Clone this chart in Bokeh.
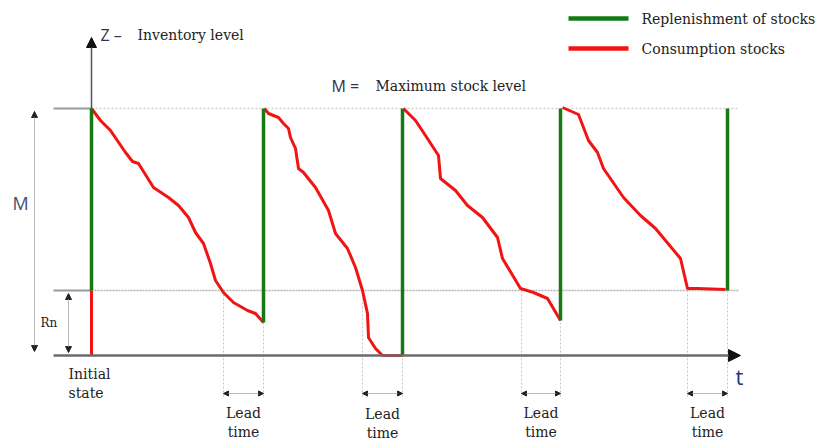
from bokeh.plotting import figure
from bokeh.models import Range1d, Arrow, NormalHead
from bokeh.core.properties import value
from bokeh.embed import file_html
from bokeh.resources import INLINE

# ---- data (time t in arbitrary units, inventory level z in arbitrary units) ----
M_LEVEL = 247
RN_LEVEL = 65

# consumption curves (red), one per cycle
c1_t = [0, 9, 19, 34, 41, 47, 62, 77, 87, 97, 104, 112, 119, 124, 132, 142, 156, 164, 172]
c1_z = [247, 235, 225, 203, 194, 192, 168, 158, 150, 138, 123, 112, 92, 75, 63, 53, 45, 42, 33]

c2_t = [173, 177, 187, 192, 197, 199, 204, 207, 212, 224, 237, 244, 256, 264, 271, 276, 277, 284, 291, 311]
c2_z = [247, 242, 238, 232, 227, 218, 207, 187, 183, 168, 145, 122, 107, 88, 65, 42, 18, 7, 0, 0]

c3_t = [312, 324, 332, 347, 349, 364, 376, 391, 406, 411, 429, 442, 456, 469]
c3_z = [247, 235, 223, 200, 177, 165, 150, 138, 118, 97, 67, 63, 57, 35]

c4_t = [471, 487, 497, 506, 512, 532, 549, 564, 589, 596, 606, 634]
c4_z = [248, 241, 215, 203, 187, 158, 140, 127, 97, 67, 67, 66]

# replenishment moments (green) and stock before replenishment
repl_t = [0, 172, 311, 469, 636]
repl_from = [65, 33, 0, 35, 65]

# reorder points (start of lead time) and end of lead time
lead_start = [132, 271, 430, 596]
lead_end = [172, 311, 469, 636]

legend_labels = ["Replenishment of stocks", "Consumption stocks"]

RED = "#f21414"
GREEN = "#157a15"
SERIF = value("DejaVu Serif")
SANS = value("Open Sans")

p = figure(width=818, height=441, output_backend="svg", toolbar_location=None,
           x_range=Range1d(-91, 727), y_range=Range1d(-86, 355),
           min_border=0, min_border_left=0, min_border_right=0,
           min_border_top=0, min_border_bottom=0)
p.axis.visible = False
p.grid.visible = False
p.outline_line_color = None
p.background_fill_color = "white"

# reference lines
p.segment(x0=[-38, -38], y0=[M_LEVEL, RN_LEVEL], x1=[0, 0], y1=[M_LEVEL, RN_LEVEL],
          line_color="#9a9a9a", line_width=2)
p.segment(x0=[0], y0=[M_LEVEL], x1=[647], y1=[M_LEVEL],
          line_color="#dccbd1", line_width=1.5, line_dash="2 2")
p.segment(x0=[0], y0=[RN_LEVEL], x1=[647], y1=[RN_LEVEL],
          line_color="#b5b5b5", line_width=1.5, line_dash="2 1")

# dotted lead-time verticals
vx = lead_start + lead_end
p.segment(x0=vx, y0=[RN_LEVEL] * len(vx), x1=vx, y1=[-41] * len(vx),
          line_color="#c8c8c8", line_width=1, line_dash="2 2")

# time axis
p.add_layout(Arrow(end=NormalHead(size=12, fill_color="#111", line_color="#111"),
                   x_start=-38, y_start=0, x_end=649, y_end=0,
                   line_color="#6a6a6a", line_width=2.5))
# inventory axis
p.add_layout(Arrow(end=NormalHead(size=10, fill_color="#111", line_color="#111"),
                   x_start=0, y_start=M_LEVEL, x_end=0, y_end=318,
                   line_color="#555", line_width=1.5))

# dimension arrows M and Rn
for xs, y0, y1 in [(-57, 4, 244), (-23, 3, 62)]:
    p.add_layout(Arrow(start=NormalHead(size=6, fill_color="#222", line_color="#222"),
                       end=NormalHead(size=6, fill_color="#222", line_color="#222"),
                       x_start=xs, y_start=y0, x_end=xs, y_end=y1,
                       line_color="#b8b8b8", line_width=1))

# lead time arrows
for a, b in zip(lead_start, lead_end):
    p.add_layout(Arrow(start=NormalHead(size=5, fill_color="#222", line_color="#222"),
                       end=NormalHead(size=5, fill_color="#222", line_color="#222"),
                       x_start=a, y_start=-38, x_end=b, y_end=-38,
                       line_color="#b8b8b8", line_width=1))

# consumption (red)
p.segment(x0=[0], y0=[0], x1=[0], y1=[RN_LEVEL], line_color=RED, line_width=3)
for tt, zz in [(c1_t, c1_z), (c2_t, c2_z), (c3_t, c3_z), (c4_t, c4_z)]:
    p.line(tt, zz, line_color=RED, line_width=3, line_join="round")

# replenishment (green)
p.segment(x0=repl_t, y0=repl_from, x1=repl_t, y1=[M_LEVEL] * len(repl_t),
          line_color=GREEN, line_width=3.5)

# legend
p.segment(x0=[477, 477], y0=[337, 307], x1=[537, 537], y1=[337, 307],
          line_color=[GREEN, RED], line_width=4.5)
p.text(x=[550, 550], y=[337, 307], text=legend_labels, text_font=SERIF,
       text_font_size="14px", text_color="#222", text_baseline="middle")

# texts
p.text(x=[9], y=[321], text=["Z \u2013"], text_font=SANS, text_font_size="16px",
       text_color="#2b3550", text_baseline="middle")
p.text(x=[46], y=[321], text=["Inventory level"], text_font=SERIF, text_font_size="14px",
       text_color="#222", text_baseline="middle")
p.text(x=[240], y=[270], text=["M ="], text_font=SANS, text_font_size="16px",
       text_color="#2b3550", text_baseline="middle")
p.text(x=[284], y=[270], text=["Maximum stock level"], text_font=SERIF, text_font_size="14px",
       text_color="#222", text_baseline="middle")
p.text(x=[-79], y=[153], text=["M"], text_font=SANS, text_font_size="18px",
       text_color="#46506a", text_baseline="middle")
p.text(x=[-51], y=[33], text=["Rn"], text_font=SERIF, text_font_size="12px",
       text_color="#222", text_baseline="middle")
p.text(x=[-23, -23], y=[-18, -37], text=["Initial", "state"], text_font=SERIF,
       text_font_size="14px", text_color="#222", text_baseline="middle")
p.text(x=[644], y=[-20], text=["t"], text_font=SANS, text_font_size="22px",
       text_color="#1c3a78", text_baseline="middle")

mids = [(a + b) / 2 for a, b in zip(lead_start, lead_end)]
drop = [0, 1, 0, 0]
p.text(x=mids, y=[-57 - d for d in drop], text=["Lead"] * 4, text_font=SERIF,
       text_font_size="14px", text_color="#222", text_baseline="middle", text_align="center")
p.text(x=mids, y=[-76 - d for d in drop], text=["time"] * 4, text_font=SERIF,
       text_font_size="14px", text_color="#222", text_baseline="middle", text_align="center")

open("out.html", "w").write(file_html(p, INLINE))
